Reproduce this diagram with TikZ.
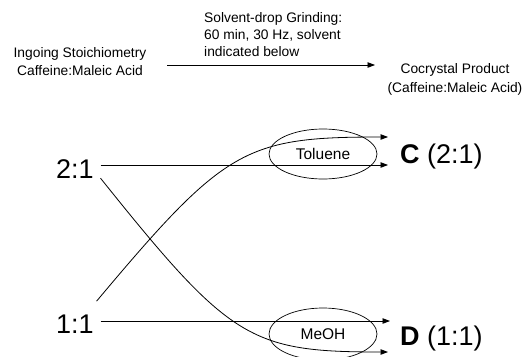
\documentclass[tikz,border=0pt]{standalone}
\usepackage{fontspec}
\setmainfont{Liberation Sans}
\usetikzlibrary{arrows.meta,shapes.geometric}

\tikzset{
  small/.style={font=\fontsize{13.8}{18.5}\selectfont, inner sep=0pt},
  ratio/.style={font=\fontsize{27}{30}\selectfont, inner sep=0pt, outer xsep=7pt, anchor=base west},
  product/.style={font=\fontsize{27}{30}\selectfont, inner sep=0pt, anchor=base west},
  solvent/.style={draw, ellipse, line width=0.7pt, minimum width=108pt, minimum height=51pt, inner sep=0pt, font=\fontsize{15.5}{18}\selectfont},
  flow/.style={line width=0.8pt, -{Triangle[length=7.5pt,width=5.5pt]}},
}

\begin{document}
\begin{tikzpicture}[x=1pt, y=-1pt]
    \useasboundingbox (0,0) rectangle (527,356);

    % Headings
    \node at (80, 47) (ingoing) [small, align=center, anchor=north] {Ingoing Stoichiometry\\Caffeine:Maleic Acid};
    \node at (204, 12) (grinding) [small, font=\fontsize{13.8}{17.2}\selectfont, align=left, anchor=north west] {Solvent-drop Grinding:\\60 min, 30 Hz, solvent\\indicated below};
    \node at (455, 63) (cocrystal) [small, font=\fontsize{13.8}{19.5}\selectfont, align=center, anchor=north] {Cocrystal Product\\(Caffeine:Maleic Acid)};
    \coordinate (pfrom) at (167, 65);
    \coordinate (pto) at (375, 65);

    % Ratios, solvents and products
    \node at (49, 178) (r21) [ratio] {2:1};
    \node at (49, 333) (r11) [ratio] {1:1};
    \node at (323, 154) (tol) [solvent, minimum height=50pt] {Toluene};
    \node at (323, 334) (meoh) [solvent, minimum height=52pt] {MeOH};
    \node at (400, 163.5) (prodC) [product] {\textbf{C} (2:1)};
    \node at (400, 345) (prodD) [product] {\textbf{D} (1:1)};
    \coordinate (cC1) at (388, 137);
    \coordinate (cC2) at (388, 165);
    \coordinate (cD1) at (390, 321);
    \coordinate (cD2) at (388, 352);

    % Arrows
    \draw[flow] (pfrom) -- (pto);
    \draw[flow] (r21.east |- cC2) -- (cC2);
    \draw[flow] (r11.east |- cD1) -- (cD1);
    \draw[flow] (r11.north east) ++(-4, -13) .. controls (225, 148) and (245, 137) .. (cC1);
    \draw[flow] (r21.south east) .. controls (230, 340) and (250, 352) .. (cD2);

\end{tikzpicture}
\end{document}
